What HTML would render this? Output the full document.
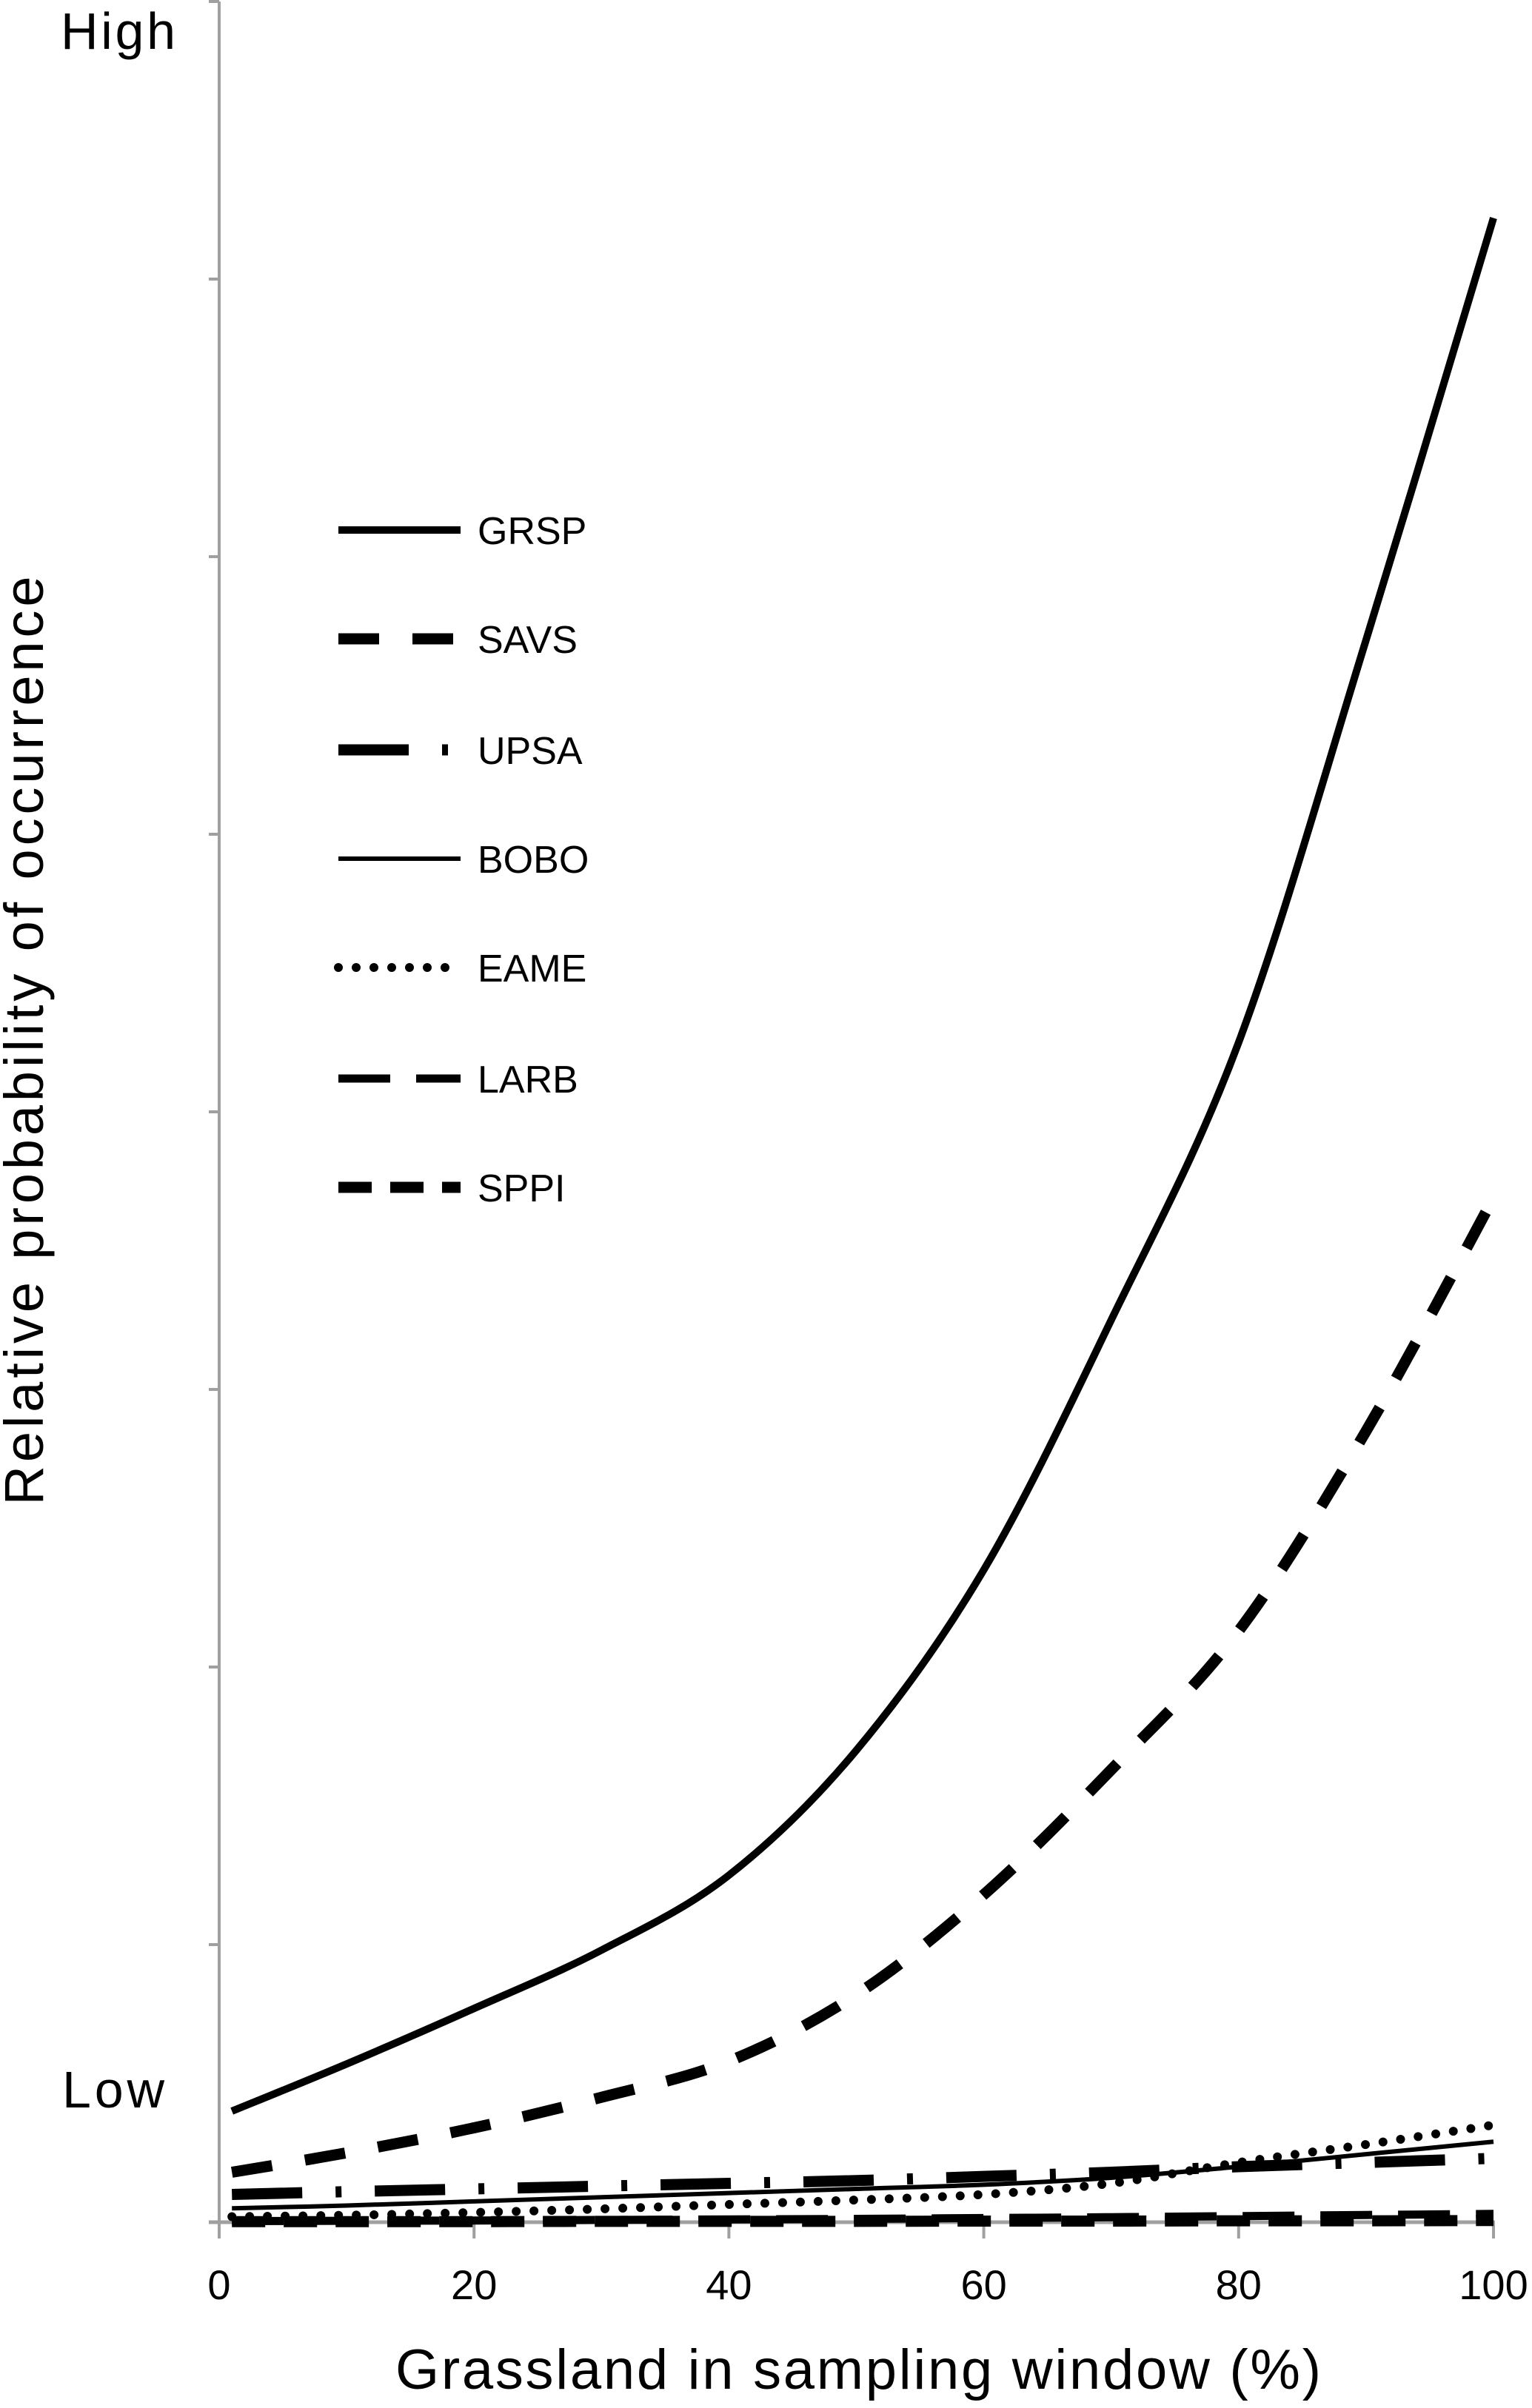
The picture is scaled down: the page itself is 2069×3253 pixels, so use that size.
<!DOCTYPE html>
<html><head><meta charset="utf-8"><style>
html,body{margin:0;padding:0;background:#fff;}
svg{display:block;font-family:"Liberation Sans",sans-serif;}
</style></head><body>
<svg id="chart" width="2069" height="3253" viewBox="0 0 2069 3253">
<g id="axes"></g>
<g id="series"></g>
<g id="legend"></g>
<text x="82" y="66" font-size="70" textLength="155">High</text>
<text x="84" y="2847" font-size="70" textLength="138">Low</text>
<text transform="translate(58,1406) rotate(-90)" text-anchor="middle" font-size="74" textLength="1255">Relative probability of occurrence</text>
<text x="1159" y="3227" text-anchor="middle" font-size="76" textLength="1250">Grassland in sampling window (%)</text>
</svg>
<script>
const xs = [1,10,20,30,40,50,60,70,80,90,100];
const grsp = [0.40,0.57,0.77,0.98,1.25,1.70,2.35,3.25,4.25,5.70,7.22];
const savs = [0.18,0.25,0.34,0.45,0.58,0.82,1.18,1.63,2.13,2.85,3.69];
const upsa = [0.10,0.11,0.12,0.13,0.14,0.15,0.165,0.18,0.20,0.215,0.23];
const bobo = [0.05,0.06,0.075,0.09,0.105,0.12,0.135,0.16,0.20,0.245,0.29];
const eame = [0.02,0.025,0.035,0.048,0.064,0.08,0.10,0.14,0.215,0.28,0.35];
const larb = [0.004,0.005,0.006,0.008,0.01,0.012,0.015,0.018,0.022,0.026,0.03];
const sppi = [0.002,0.002,0.002,0.003,0.003,0.003,0.004,0.004,0.005,0.005,0.006];
const xTicks = ["0","20","40","60","80","100"];
const yTickCount = 8;
const seriesNames = ["GRSP","SAVS","UPSA","BOBO","EAME","LARB","SPPI"];

const X0=296, X1=2017, Y0=3002, Y1=2;
const xScale = v => X0 + (v/100)*(X1-X0);
const yScale = v => Y0 - (v/yTickCount)*(Y0-Y1);
const NS="http://www.w3.org/2000/svg";
function mk(tag, attrs, parent){const e=document.createElementNS(NS,tag);for(const k in attrs)e.setAttribute(k,attrs[k]);parent.appendChild(e);return e;}
const axes=document.getElementById('axes');
let a=mk('line',{x1:X0,y1:Y1,x2:X0,y2:Y0,stroke:'#a0a0a0','stroke-width':4},axes);


for(let i=0;i<=yTickCount;i++){
  const t=mk('line',{x1:X0-14,y1:yScale(i),x2:X0,y2:yScale(i),stroke:'#a0a0a0','stroke-width':4},axes);
  
  
}
let b=mk('line',{x1:X0-14,y1:Y0,x2:X1+2,y2:Y0,stroke:'#a0a0a0','stroke-width':5},axes);


xTicks.forEach(l=>{
  const x=xScale(+l);
  const t=mk('line',{x1:x,y1:Y0,x2:x,y2:Y0+22,stroke:'#a0a0a0','stroke-width':4},axes);
  
  
  const tx=mk('text',{x:x,y:3106,'text-anchor':'middle','font-size':56},axes);
  tx.textContent=l;
  
  
});
const styles={
 GRSP:{w:10,d:'',cap:'butt'},
 SAVS:{w:15,d:'55 45',cap:'butt'},
 UPSA:{w:15,d:'95 45 8 45',cap:'butt'},
 BOBO:{w:6,d:'',cap:'butt'},
 EAME:{w:12,d:'0 24',cap:'round'},
 LARB:{w:11,d:'70 35',cap:'butt'},
 SPPI:{w:15,d:'45 25',cap:'butt'}
};
const data={GRSP:grsp,SAVS:savs,UPSA:upsa,BOBO:bobo,EAME:eame,LARB:larb,SPPI:sppi};
function smoothPath(px,py){
  let d=`M${px[0]},${py[0]}`;
  for(let i=0;i<px.length-1;i++){
    const p0x=px[Math.max(i-1,0)],p0y=py[Math.max(i-1,0)];
    const p3x=px[Math.min(i+2,px.length-1)],p3y=py[Math.min(i+2,px.length-1)];
    const c1x=px[i]+(px[i+1]-p0x)/6,c1y=py[i]+(py[i+1]-p0y)/6;
    const c2x=px[i+1]-(p3x-px[i])/6,c2y=py[i+1]-(p3y-py[i])/6;
    d+=` C${c1x},${c1y} ${c2x},${c2y} ${px[i+1]},${py[i+1]}`;
  }
  return d;
}
const sg=document.getElementById('series');
seriesNames.forEach(n=>{
  const s=styles[n];
  const px=xs.map(xScale), py=data[n].map(yScale);
  const p=mk('path',{d:smoothPath(px,py),fill:'none',stroke:'#000','stroke-width':s.w,'stroke-linecap':s.cap},sg);
  if(s.d)p.setAttribute('stroke-dasharray',s.d);
  
  
});
const lg=document.getElementById('legend');
const legY=[716,863,1013,1160,1307,1457,1604];
seriesNames.forEach((n,i)=>{
  const s=styles[n];
  const g=mk('g',{},lg);
  
  
  const l=mk('line',{x1:457,y1:legY[i],x2:622,y2:legY[i],stroke:'#000','stroke-width':s.w,'stroke-linecap':s.cap},g);
  if(s.d)l.setAttribute('stroke-dasharray',s.d);
  
  
  const t=mk('text',{x:645,y:legY[i]+19,'font-size':52},g);
  t.textContent=n;
  
  
});
</script>
</body></html>
